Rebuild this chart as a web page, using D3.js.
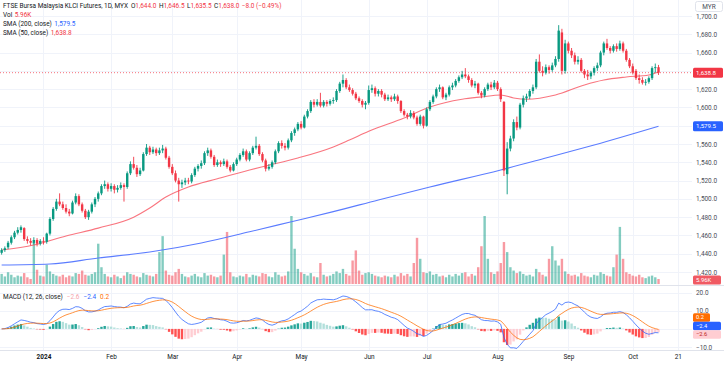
<!DOCTYPE html>
<html><head><meta charset="utf-8">
<script src="https://cdn.jsdelivr.net/npm/d3@7"></script>
<style>
html,body{margin:0;padding:0;background:#fff;overflow:hidden;}
svg{display:block;}
</style></head><body>
<svg id="c" width="724" height="367"></svg>
<script>
// ---------------- DATA ----------------
const holidays = ["2023-12-25","2024-01-01","2024-01-25","2024-02-01","2024-02-12","2024-03-28",
  "2024-04-10","2024-04-11","2024-05-01","2024-05-22","2024-06-03","2024-06-17","2024-07-08","2024-09-16"];
const firstDay = "2023-12-12", lastAxisDay = "2024-10-25";

// daily candles [open, high, low, close], 2023-12-12 .. 2024-10-11
const ohlc = [
 // Dec 2023
 [1441,1446,1439,1444],[1444,1448,1442,1446],[1447,1454,1445,1452],[1452,1460,1450,1458],[1458,1465,1456,1463],
 [1463,1469,1461,1466],[1466,1471,1463,1469],[1468,1469,1454,1456],[1456,1459,1451,1454],[1454,1457,1449,1452],
 [1452,1458,1450,1455],[1455,1457,1448,1451],[1451,1456,1449,1454],
 // Jan 2024
 [1454,1458,1450,1453],[1453,1463,1451,1462],[1462,1480,1460,1478],[1478,1491,1476,1489],[1489,1500,1487,1497],
 [1497,1506,1492,1494],[1494,1497,1488,1490],[1490,1494,1484,1486],[1486,1489,1481,1484],[1484,1498,1483,1496],
 [1496,1506,1494,1503],[1503,1505,1492,1494],[1494,1496,1485,1487],[1487,1489,1478,1480],[1480,1488,1477,1486],
 [1486,1496,1484,1494],[1494,1502,1491,1500],[1500,1508,1497,1506],[1506,1516,1504,1514],[1514,1520,1511,1516],
 [1516,1518,1508,1511],
 // Feb
 [1511,1517,1508,1514],[1514,1516,1506,1510],[1510,1515,1507,1512],[1512,1518,1510,1515],[1515,1517,1497,1513],
 [1513,1530,1511,1528],[1528,1541,1526,1538],[1538,1546,1532,1534],[1534,1537,1524,1527],[1527,1534,1525,1531],
 [1531,1551,1530,1549],[1549,1560,1547,1556],[1556,1558,1548,1551],[1551,1557,1549,1554],[1554,1556,1547,1550],
 [1550,1556,1548,1553],[1553,1559,1550,1555],[1555,1557,1543,1545],[1545,1547,1533,1535],
 // Mar
 [1535,1538,1526,1528],[1528,1531,1518,1520],[1520,1523,1497,1516],[1516,1521,1512,1518],[1518,1523,1515,1520],
 [1520,1523,1516,1519],[1519,1528,1517,1526],[1526,1535,1524,1533],[1533,1538,1530,1536],[1536,1542,1533,1539],
 [1539,1552,1537,1550],[1550,1556,1547,1553],[1553,1555,1544,1546],[1546,1548,1535,1537],[1537,1543,1535,1540],
 [1540,1542,1535,1538],[1538,1544,1536,1541],[1541,1543,1533,1535],[1535,1537,1529,1531],[1531,1540,1530,1538],
 // Apr
 [1538,1545,1536,1543],[1543,1550,1541,1548],[1548,1555,1546,1552],[1552,1554,1541,1543],[1543,1552,1541,1550],
 [1550,1558,1548,1556],[1556,1568,1554,1558],[1558,1560,1547,1549],[1549,1551,1540,1542],[1542,1544,1530,1533],
 [1533,1538,1531,1535],[1535,1542,1533,1540],[1540,1554,1538,1552],[1552,1563,1550,1561],[1561,1564,1555,1558],
 [1558,1561,1553,1556],[1556,1566,1554,1564],[1564,1574,1562,1572],[1572,1578,1569,1576],[1576,1584,1574,1582],
 // May
 [1582,1585,1576,1578],[1578,1592,1577,1590],[1590,1598,1588,1596],[1596,1608,1594,1606],[1606,1609,1600,1603],
 [1603,1609,1601,1606],[1606,1616,1600,1602],[1602,1608,1600,1606],[1606,1608,1601,1604],[1604,1609,1602,1607],
 [1607,1611,1604,1608],[1608,1620,1606,1618],[1618,1628,1616,1626],[1626,1636,1622,1630],[1630,1632,1620,1622],
 [1622,1625,1617,1619],[1619,1621,1613,1615],[1615,1617,1608,1610],[1610,1612,1605,1607],[1607,1609,1600,1603],
 [1603,1607,1598,1605],
 // Jun
 [1605,1624,1603,1619],[1619,1625,1616,1621],[1621,1623,1612,1615],[1615,1620,1612,1618],[1618,1620,1611,1614],
 [1614,1616,1607,1609],[1609,1614,1607,1611],[1611,1613,1606,1609],[1609,1615,1607,1612],[1612,1614,1604,1607],
 [1607,1608,1594,1596],[1596,1598,1590,1592],[1592,1594,1587,1590],[1590,1597,1588,1594],[1594,1596,1587,1589],
 [1589,1591,1580,1582],[1582,1592,1580,1590],[1590,1591,1577,1580],
 // Jul
 [1580,1600,1579,1598],[1598,1608,1596,1606],[1606,1614,1604,1612],[1612,1622,1610,1620],[1620,1625,1617,1622],
 [1622,1623,1609,1611],[1611,1616,1608,1614],[1614,1624,1612,1622],[1622,1627,1619,1624],[1624,1631,1622,1629],
 [1629,1635,1627,1633],[1633,1640,1631,1636],[1636,1643,1632,1634],[1634,1636,1627,1630],[1630,1632,1622,1624],
 [1624,1629,1621,1626],[1626,1627,1614,1616],[1616,1618,1610,1613],[1613,1622,1611,1620],[1620,1627,1618,1625],
 [1625,1628,1619,1622],[1622,1630,1620,1627],
 // Aug
 [1627,1629,1618,1620],[1620,1622,1606,1609],[1606,1607,1525,1531],[1527,1562,1505,1555],[1555,1569,1552,1566],
 [1566,1587,1563,1584],[1584,1590,1575,1578],[1578,1605,1576,1603],[1603,1613,1600,1610],[1610,1615,1606,1612],
 [1612,1620,1609,1618],[1618,1625,1615,1622],[1622,1653,1620,1650],[1650,1658,1638,1640],[1640,1645,1634,1638],
 [1638,1647,1636,1644],[1644,1646,1637,1641],[1641,1649,1639,1646],[1646,1656,1644,1653],[1653,1690,1650,1684],
 [1682,1686,1636,1640],[1640,1674,1637,1670],
 // Sep
 [1670,1672,1659,1662],[1662,1665,1654,1657],[1657,1660,1647,1650],[1650,1656,1647,1652],[1652,1654,1638,1640],
 [1640,1642,1632,1636],[1636,1641,1630,1634],[1634,1640,1631,1638],[1638,1645,1635,1643],[1643,1649,1640,1646],
 [1646,1662,1644,1660],[1660,1672,1657,1670],[1670,1675,1663,1665],[1665,1667,1659,1662],[1662,1669,1660,1667],
 [1667,1670,1661,1664],[1664,1673,1662,1670],[1670,1672,1660,1662],[1662,1664,1650,1652],[1652,1654,1643,1645],
 // Oct
 [1645,1648,1636,1638],[1640,1642,1630,1632],[1632,1636,1626,1630],[1630,1633,1625,1627],[1627,1631,1624,1628],
 [1628,1634,1626,1632],[1632,1645,1630,1643],[1643,1648,1638,1644],[1644,1646.5,1635.5,1638]
];

// volume, thousands of contracts
const volumeK = [
 12,9,14,11,8,10,9,13,8,6,50,17,10,
 9,23,15,12,10,9,11,8,10,9,13,12,16,11,10,12,14,48,20,12,9,
 8,11,9,7,10,14,12,11,9,8,13,11,10,9,12,38,57,16,11,
 10,14,18,12,9,8,10,12,9,8,13,10,11,9,8,10,35,62,14,9,
 8,10,9,12,8,11,10,9,13,12,9,8,14,11,9,10,15,81,42,18,
 14,12,10,13,9,8,25,11,9,10,12,15,13,18,12,10,28,40,16,11,13,
 14,12,10,9,8,10,9,8,11,9,13,10,12,9,25,55,30,14,
 13,15,11,12,9,10,8,11,9,12,10,13,14,9,12,10,20,45,81,30,14,12,
 15,25,50,38,20,16,13,15,12,10,11,9,18,14,11,9,30,45,28,22,30,15,
 12,10,11,9,13,10,9,8,11,10,14,12,10,9,20,35,68,30,14,12,
 10,9,11,8,7,9,10,8,5.96
];

// moving averages [date, value]
const sma50 = [
 ["2023-12-12",1444],["2023-12-27",1449.5],["2024-01-11",1459.4],["2024-01-26",1468],["2024-02-14",1480],
 ["2024-02-21",1490],["2024-02-28",1502],["2024-03-08",1513],["2024-03-21",1522],["2024-04-05",1531.6],
 ["2024-04-16",1536],["2024-04-30",1544.7],["2024-05-16",1556.8],["2024-05-24",1564.4],["2024-06-04",1574],
 ["2024-06-20",1588.5],["2024-07-02",1600.5],["2024-07-17",1609],["2024-07-25",1611.5],["2024-08-02",1613.6],
 ["2024-08-08",1610.4],["2024-08-14",1609],["2024-08-27",1613.6],["2024-09-09",1624.6],["2024-09-18",1630],
 ["2024-09-27",1633.3],["2024-10-08",1635.5],["2024-10-11",1638.8]
];
const sma200 = [
 ["2023-12-12",1427.7],["2024-01-04",1428.8],["2024-01-26",1435.3],["2024-02-21",1441.9],["2024-03-14",1451.7],
 ["2024-04-05",1464],["2024-04-26",1475],["2024-05-16",1486],["2024-06-07",1498.8],["2024-07-02",1513],
 ["2024-08-02",1531.6],["2024-08-22",1544.7],["2024-09-12",1559],["2024-10-11",1579.5]
];

const timeTickDates = ["2024-01-02","2024-02-02","2024-03-01","2024-04-01","2024-05-02","2024-06-04",
  "2024-07-01","2024-08-01","2024-09-02","2024-10-01","2024-10-21"];
const timeTickLabels = ["2024","Feb","Mar","Apr","May","Jun","Jul","Aug","Sep","Oct","21"];
const priceGrid = [1420,1440,1460,1480,1500,1520,1540,1560,1580,1600,1620,1640,1660,1680,1700];
const priceTickLabels = [1420,1440,1460,1480,1500,1520,1540,1560,1600,1620,1660,1680,1700]; // 1,580 / 1,640 covered by value tags
const macdGrid = [20,10,0,-10];
const macdTickLabels = [20,10,-10]; // 0.0 covered by value tags

const legendTitle = "FTSE Bursa Malaysia KLCI Futures, 1D, MYX";
const legendOHLC = [["O","1,644.0"],["H","1,646.5"],["L","1,635.5"],["C","1,638.0"]];
const legendChange = "−8.0 (−0.49%)";
const volLast = "5.96K", sma200Last = "1,579.5", sma50Last = "1,638.8";
const macdLegend = ["−2.6","−2.4","0.2"];

// ---------------- LAYOUT ----------------
const W = 724, H = 367, plotRight = 692;
const FONT = 'Roboto, "Liberation Sans", Arial, sans-serif';
const C = {up:"#089981", down:"#F23645", grid:"#f0f3fa", border:"#e0e3eb", text:"#131722",
  axis:"#4a4d57", blue:"#2962FF", orange:"#FF6D00", sma50:"#F7525F", sma200:"#5b7cff"};

const svg = d3.select("#c").attr("font-family", FONT);

// trading calendar
const pad = n => (n < 10 ? "0" : "") + n;
const fmt = d => d.getUTCFullYear() + "-" + pad(d.getUTCMonth() + 1) + "-" + pad(d.getUTCDate());
const dates = [];
{
  const [y0,m0,d0] = firstDay.split("-").map(Number), [y1,m1,d1] = lastAxisDay.split("-").map(Number);
  let t = Date.UTC(y0,m0-1,d0); const end = Date.UTC(y1,m1-1,d1);
  while (t <= end) { const d = new Date(t), wd = d.getUTCDay(), s = fmt(d);
    if (wd !== 0 && wd !== 6 && !holidays.includes(s)) dates.push(s); t += 86400000; }
}
const pos = new Map(dates.map((s,i) => [s,i]));

const x = d3.scaleLinear().domain([-0.509, 214.4]).range([0, plotRight]);
const y = d3.scaleLinear().domain([1420, 1700]).range([272, 16]);
const yv = d3.scaleLinear().domain([0, 81]).range([284, 216]);
const ym = d3.scaleLinear().domain([-10, 20]).range([347, 292.7]);

// font fit
let FS = 7;
{ const p = svg.append("text").attr("font-size", FS).text(legendTitle);
  FS = FS * 125 / p.node().getComputedTextLength(); p.remove(); }

// clip paths
const defs = svg.append("defs");
defs.append("clipPath").attr("id","cm").append("rect").attr("x",0).attr("y",0).attr("width",plotRight).attr("height",285);
defs.append("clipPath").attr("id","cd").append("rect").attr("x",0).attr("y",286).attr("width",plotRight).attr("height",64);

// grid
const grid = svg.append("g");
grid.selectAll(".hg").data(priceGrid).join("line")
  .attr("x1",0).attr("x2",plotRight).attr("y1",d=>Math.round(y(d))+0.5).attr("y2",d=>Math.round(y(d))+0.5)
  .attr("stroke",C.grid);
grid.selectAll(".mg").data(macdGrid).join("line")
  .attr("x1",0).attr("x2",plotRight).attr("y1",d=>Math.round(ym(d))+0.5).attr("y2",d=>Math.round(ym(d))+0.5)
  .attr("stroke",C.grid);
grid.selectAll(".vg").data(timeTickDates).join("line")
  .attr("x1",d=>Math.round(x(pos.get(d)))+0.5).attr("x2",d=>Math.round(x(pos.get(d)))+0.5)
  .attr("y1",0).attr("y2",350).attr("stroke",C.grid);

// separators
svg.append("line").attr("x1",0).attr("x2",W).attr("y1",285.5).attr("y2",285.5).attr("stroke",C.border);
svg.append("line").attr("x1",0).attr("x2",W).attr("y1",350.5).attr("y2",350.5).attr("stroke",C.border);

const data = ohlc.map((d,i) => ({i, o:d[0], h:d[1], l:d[2], c:d[3], v:volumeK[i]}));
const col = d => d.c >= d.o ? C.up : C.down;
const bw = 2.4;

// volume
const gm = svg.append("g").attr("clip-path","url(#cm)");
gm.selectAll(".vol").data(data).join("rect")
  .attr("x",d=>x(d.i)-bw/2).attr("width",bw)
  .attr("y",d=>yv(d.v)).attr("height",d=>yv(0)-yv(d.v))
  .attr("fill",d=>d.c>=d.o?"rgba(8,153,129,0.5)":"rgba(242,54,69,0.5)");

// SMAs
const smaLine = d3.line().x(d=>x(pos.get(d[0]))).y(d=>y(d[1])).curve(d3.curveMonotoneX);
gm.append("path").attr("d",smaLine(sma200)).attr("fill","none").attr("stroke",C.sma200).attr("stroke-width",1.1);
gm.append("path").attr("d",smaLine(sma50)).attr("fill","none").attr("stroke",C.sma50).attr("stroke-width",1.1).attr("stroke-opacity",0.8);

// last price line
const last = data[data.length-1];
gm.append("line").attr("x1",0).attr("x2",plotRight).attr("y1",y(last.c)).attr("y2",y(last.c))
  .attr("stroke",C.down).attr("stroke-width",1).attr("stroke-dasharray","1,2").attr("stroke-opacity",0.7);

// candles
gm.selectAll(".wick").data(data).join("line")
  .attr("x1",d=>x(d.i)).attr("x2",d=>x(d.i)).attr("y1",d=>y(d.h)).attr("y2",d=>y(d.l))
  .attr("stroke",col).attr("stroke-width",0.9);
gm.selectAll(".body").data(data).join("rect")
  .attr("x",d=>x(d.i)-bw/2).attr("width",bw)
  .attr("y",d=>y(Math.max(d.o,d.c))).attr("height",d=>Math.max(0.8, Math.abs(y(d.o)-y(d.c))))
  .attr("fill",col);

// MACD (12, 26, close)
const closes = data.map(d=>d.c);
const ema = (arr,n) => { const a = 2/(n+1); let e = arr[0]; return arr.map((v,i)=> i===0 ? e : (e = a*v + (1-a)*e)); };
const e12 = ema(closes,12), e26 = ema(closes,26);
const macd = e12.map((v,i)=>v-e26[i]);
const sig = ema(macd,9);
const hist = macd.map((v,i)=>v-sig[i]);
const gd = svg.append("g").attr("clip-path","url(#cd)");
gd.selectAll(".h").data(hist).join("rect")
  .attr("x",(d,i)=>x(i)-bw/2).attr("width",bw)
  .attr("y",d=>Math.min(ym(d),ym(0))).attr("height",d=>Math.abs(ym(d)-ym(0)))
  .attr("fill",(d,i)=>{ const p = i>0?hist[i-1]:d;
    return d>=0 ? (d>=p?"#26A69A":"#B2DFDB") : (d<p?"#FF5252":"#FFCDD2"); });
const ml = d3.line().x((d,i)=>x(i)).y(d=>ym(d));
gd.append("path").attr("d",ml(macd)).attr("fill","none").attr("stroke",C.blue).attr("stroke-width",1).attr("stroke-opacity",0.75);
gd.append("path").attr("d",ml(sig)).attr("fill","none").attr("stroke",C.orange).attr("stroke-width",1).attr("stroke-opacity",0.75);

// ---------------- AXES ----------------
const pAxis = d3.axisRight(y).tickValues(priceTickLabels).tickFormat(d3.format(",.1f")).tickSize(0).tickPadding(0);
const ga = svg.append("g").attr("transform",`translate(696,0)`).call(pAxis);
ga.select(".domain").remove();
ga.selectAll("text").attr("font-size",FS).attr("font-family",FONT).attr("fill",C.axis);
const mAxis = d3.axisRight(ym).tickValues(macdTickLabels).tickFormat(d=>d3.format(".1f")(d).replace("-","−")).tickSize(0).tickPadding(0);
const gma = svg.append("g").attr("transform",`translate(696,0)`).call(mAxis);
gma.select(".domain").remove();
gma.selectAll("text").attr("font-size",FS).attr("font-family",FONT).attr("fill",C.axis);

const tAxis = d3.axisBottom(x).tickValues(timeTickDates.map(d=>pos.get(d)))
  .tickFormat((d,i)=>timeTickLabels[i]).tickSize(0).tickPadding(0);
const gt = svg.append("g").attr("transform","translate(0,354)").call(tAxis);
gt.select(".domain").remove();
gt.selectAll("text").attr("font-size",FS).attr("font-family",FONT).attr("fill",C.text)
  .attr("font-weight",(d,i)=>i===0?"bold":"normal");

// axis value boxes
function tag(yc, txt, bg, fg, w, h, fs) {
  const g = svg.append("g");
  g.append("rect").attr("x",693).attr("y",yc-h/2).attr("width",w).attr("height",h).attr("rx",1.5).attr("fill",bg);
  g.append("text").attr("x",696).attr("y",yc).attr("dy","0.35em").attr("font-size",fs).attr("fill",fg).text(txt);
}
tag(y(last.c), sma50Last, C.down, "#fff", 30, 10, FS*0.95);
tag(y(1579.5), sma200Last, C.blue, "#fff", 30, 10, FS*0.95);
tag(280, volLast, "#f05a63", "#fff", 28, 9, FS*0.92);
tag(317.5, macdLegend[2], C.orange, "#fff", 17, 8.5, FS*0.88);
tag(326, macdLegend[1], C.blue, "#fff", 28, 8.5, FS*0.88);
tag(334.5, macdLegend[0], "#FFCDD2", "#b71c1c", 28, 8.5, FS*0.88);

// currency box
svg.append("rect").attr("x",695.5).attr("y",1.5).attr("width",27).attr("height",10).attr("rx",2)
  .attr("fill","#fff").attr("stroke",C.border);
svg.append("text").attr("x",709).attr("y",6.5).attr("dy","0.35em").attr("text-anchor","middle")
  .attr("font-size",FS).attr("fill",C.axis).text("MYR");

// ---------------- LEGENDS ----------------
const lg = svg.append("g").attr("font-size",FS).attr("fill",C.text);
const l1 = lg.append("text").attr("x",3).attr("y",6).attr("dy","0.35em");
l1.append("tspan").text(legendTitle);
legendOHLC.forEach(([k,v],j)=>{ l1.append("tspan").attr("dx",j===0?3:2.5).text(k); l1.append("tspan").attr("fill",C.down).text(v); });
l1.append("tspan").attr("dx",2.5).attr("fill",C.down).text(legendChange);
const l2 = lg.append("text").attr("x",3).attr("y",15).attr("dy","0.35em");
l2.append("tspan").text("Vol"); l2.append("tspan").attr("dx",2.5).attr("fill",C.down).text(volLast);
const l3 = lg.append("text").attr("x",3).attr("y",24).attr("dy","0.35em");
l3.append("tspan").text("SMA (200, close)"); l3.append("tspan").attr("dx",2.5).attr("fill",C.blue).text(sma200Last);
const l4 = lg.append("text").attr("x",3).attr("y",33).attr("dy","0.35em");
l4.append("tspan").text("SMA (50, close)"); l4.append("tspan").attr("dx",2.5).attr("fill",C.down).text(sma50Last);
const l5 = lg.append("text").attr("x",3).attr("y",296.5).attr("dy","0.35em");
l5.append("tspan").text("MACD (12, 26, close)");
l5.append("tspan").attr("dx",4).attr("fill","#f5a3ab").text(macdLegend[0]);
l5.append("tspan").attr("dx",4).attr("fill",C.blue).text(macdLegend[1]);
l5.append("tspan").attr("dx",4).attr("fill",C.orange).text(macdLegend[2]);
</script></body></html>
